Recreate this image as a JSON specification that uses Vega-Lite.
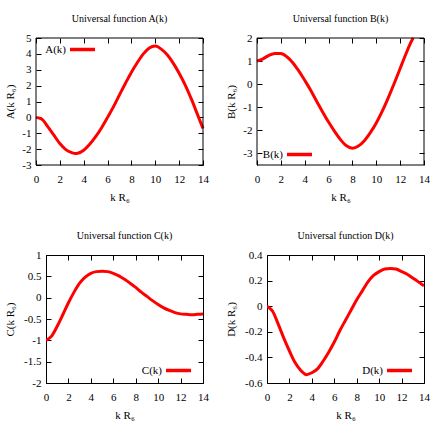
{
  "$schema": "https://vega.github.io/schema/vega-lite/v6.json",
  "padding": {"left": 4, "top": 14, "right": 0, "bottom": 0},
  "background": "white",
  "config": {
    "font": "Liberation Serif",
    "view": {"stroke": "black", "strokeWidth": 1},
    "axis": {
      "labelFont": "Liberation Serif", "labelFontSize": 11, "labelColor": "black",
      "titleFont": "Liberation Serif", "titleFontSize": 11, "titleFontWeight": "normal", "titleColor": "black",
      "domain": false, "grid": false, "ticks": true, "tickColor": "black", "tickSize": 5, "tickWidth": 1, "offset": -5,
      "labelPadding": 5, "minExtent": 0, "labelFlush": false, "labelOverlap": false, "format": "~g"
    },
    "axisY": {"titlePadding": 6},
    "axisX": {"titlePadding": 7, "labelPadding": 8},
    "title": {"font": "Liberation Serif", "fontSize": 10, "fontWeight": "normal", "color": "black", "offset": 8},
    "legend": {
      "labelFont": "Liberation Serif", "labelFontSize": 11, "labelColor": "black",
      "symbolType": "stroke", "symbolSize": 625, "symbolStrokeWidth": 3.5,
      "labelAlign": "right", "labelOffset": -31, "symbolOffset": 28, "title": null, "padding": 0
    },
    "locale": {"number": {"decimal": ".", "thousands": ",", "grouping": [3], "currency": ["$", ""], "minus": "-"}}
  },
  "datasets": {
    "uf": [
      {"k": 0, "A": 0, "B": 1.0, "C": -1.0, "D": 0},
      {"k": 0.5, "A": -0.12, "B": 1.1, "C": -0.9, "D": -0.04},
      {"k": 1, "A": -0.6, "B": 1.25, "C": -0.67, "D": -0.14},
      {"k": 1.5, "A": -1.12, "B": 1.33, "C": -0.4, "D": -0.25},
      {"k": 2, "A": -1.65, "B": 1.33, "C": -0.12, "D": -0.35},
      {"k": 2.5, "A": -2.03, "B": 1.19, "C": 0.13, "D": -0.44},
      {"k": 3, "A": -2.22, "B": 0.93, "C": 0.34, "D": -0.5},
      {"k": 3.3, "A": -2.28, "B": 0.72, "C": 0.43, "D": -0.525},
      {"k": 3.5, "A": -2.26, "B": 0.58, "C": 0.48, "D": -0.535},
      {"k": 4, "A": -2.07, "B": 0.17, "C": 0.57, "D": -0.52},
      {"k": 4.5, "A": -1.7, "B": -0.26, "C": 0.61, "D": -0.49},
      {"k": 5, "A": -1.22, "B": -0.74, "C": 0.62, "D": -0.43},
      {"k": 5.5, "A": -0.65, "B": -1.2, "C": 0.61, "D": -0.36},
      {"k": 6, "A": 0, "B": -1.64, "C": 0.57, "D": -0.28},
      {"k": 6.5, "A": 0.68, "B": -2.04, "C": 0.51, "D": -0.19},
      {"k": 7, "A": 1.42, "B": -2.4, "C": 0.43, "D": -0.11},
      {"k": 7.5, "A": 2.15, "B": -2.67, "C": 0.34, "D": -0.03},
      {"k": 8, "A": 2.85, "B": -2.77, "C": 0.24, "D": 0.05},
      {"k": 8.5, "A": 3.46, "B": -2.68, "C": 0.13, "D": 0.12},
      {"k": 9, "A": 4.0, "B": -2.45, "C": 0.03, "D": 0.19},
      {"k": 9.5, "A": 4.37, "B": -2.1, "C": -0.07, "D": 0.24},
      {"k": 10, "A": 4.49, "B": -1.68, "C": -0.16, "D": 0.27},
      {"k": 10.5, "A": 4.3, "B": -1.17, "C": -0.24, "D": 0.29},
      {"k": 11, "A": 3.94, "B": -0.59, "C": -0.3, "D": 0.295},
      {"k": 11.5, "A": 3.42, "B": 0.03, "C": -0.35, "D": 0.29},
      {"k": 12, "A": 2.78, "B": 0.68, "C": -0.38, "D": 0.27},
      {"k": 12.5, "A": 2.05, "B": 1.33, "C": -0.39, "D": 0.25},
      {"k": 13, "A": 1.2, "B": 1.91, "C": -0.4, "D": 0.22},
      {"k": 13.1, "A": 1.02, "B": 2.0, "C": -0.4, "D": 0.214},
      {"k": 13.5, "A": 0.25, "B": 2.5, "C": -0.39, "D": 0.19},
      {"k": 14, "A": -0.7, "B": 3.1, "C": -0.38, "D": 0.16}
    ],
    "frame": [{}]
  },
  "resolve": {"scale": {"color": "independent"}, "legend": {"color": "independent"}},
  "columns": 2,
  "spacing": {"row": 28, "column": 12},
  "concat": [
    {
      "title": {"text": "Universal function A(k)", "dx": -5},
      "width": 157, "height": 127,
      "view": {"stroke": null},
      "data": {"name": "uf"},
      "resolve": {"axis": {"x": "independent", "y": "independent"}},
      "layer": [
        {
          "mark": {"type": "line", "strokeWidth": 3, "interpolate": "monotone"},
          "encoding": {
            "x": {"field": "k", "type": "quantitative", "scale": {"domain": [0, 14], "range": [-10, 157], "nice": false, "zero": false}, "axis": {"values": [0, 2, 4, 6, 8, 10, 12, 14], "title": "k R₆"}},
            "y": {"field": "A", "type": "quantitative", "scale": {"domain": [-3, 5], "nice": false, "zero": false}, "axis": {"values": [-3, -2, -1, 0, 1, 2, 3, 4, 5], "title": "A(k R₆)", "offset": 5}},
            "color": {"datum": "A(k)", "scale": {"range": ["#ff0000"]}, "legend": {"orient": "top-left", "offset": -3, "symbolOffset": 25}}
          }
        },
        {
          "mark": {"type": "line", "strokeOpacity": 0},
          "encoding": {
            "x": {"field": "k", "type": "quantitative", "axis": {"orient": "top", "labels": false, "title": null, "values": [0, 2, 4, 6, 8, 10, 12, 14]}},
            "y": {"field": "A", "type": "quantitative", "axis": {"orient": "right", "labels": false, "title": null, "values": [-3, -2, -1, 0, 1, 2, 3, 4, 5]}}
          }
        },
        {
          "data": {"name": "frame"},
          "mark": {"type": "rect", "fillOpacity": 0, "stroke": "black", "strokeWidth": 1},
          "encoding": {
            "x": {"datum": 0, "type": "quantitative", "axis": null},
            "x2": {"datum": 14},
            "y": {"datum": -3, "type": "quantitative", "axis": null},
            "y2": {"datum": 5}
          }
        }
      ]
    },
    {
      "title": {"text": "Universal function B(k)", "dx": -5},
      "width": 157, "height": 127,
      "view": {"stroke": null},
      "data": {"name": "uf"},
      "transform": [{"filter": "datum.B <= 2"}],
      "resolve": {"axis": {"x": "independent", "y": "independent"}},
      "layer": [
        {
          "mark": {"type": "line", "strokeWidth": 3, "interpolate": "monotone"},
          "encoding": {
            "x": {"field": "k", "type": "quantitative", "scale": {"domain": [0, 14], "range": [-10, 157], "nice": false, "zero": false}, "axis": {"values": [0, 2, 4, 6, 8, 10, 12, 14], "title": "k R₆"}},
            "y": {"field": "B", "type": "quantitative", "scale": {"domain": [-3.5, 2], "nice": false, "zero": false}, "axis": {"values": [-3, -2, -1, 0, 1, 2], "title": "B(k R₆)", "offset": 5}},
            "color": {"datum": "B(k)", "scale": {"range": ["#ff0000"]}, "legend": {"orient": "bottom-left", "offset": 3, "symbolOffset": 15}}
          }
        },
        {
          "mark": {"type": "line", "strokeOpacity": 0},
          "encoding": {
            "x": {"field": "k", "type": "quantitative", "axis": {"orient": "top", "labels": false, "title": null, "values": [0, 2, 4, 6, 8, 10, 12, 14]}},
            "y": {"field": "B", "type": "quantitative", "axis": {"orient": "right", "labels": false, "title": null, "values": [-3, -2, -1, 0, 1, 2]}}
          }
        },
        {
          "data": {"name": "frame"},
          "mark": {"type": "rect", "fillOpacity": 0, "stroke": "black", "strokeWidth": 1},
          "encoding": {
            "x": {"datum": 0, "type": "quantitative", "axis": null},
            "x2": {"datum": 14},
            "y": {"datum": -3.5, "type": "quantitative", "axis": null},
            "y2": {"datum": 2}
          }
        }
      ]
    },
    {
      "title": "Universal function C(k)",
      "width": 157, "height": 128,
      "data": {"name": "uf"},
      "resolve": {"axis": {"x": "independent", "y": "independent"}},
      "layer": [
        {
          "mark": {"type": "line", "strokeWidth": 3, "interpolate": "monotone", "clip": true},
          "encoding": {
            "x": {"field": "k", "type": "quantitative", "scale": {"domain": [0, 14], "nice": false, "zero": false}, "axis": {"values": [0, 2, 4, 6, 8, 10, 12, 14], "title": "k R₆"}},
            "y": {"field": "C", "type": "quantitative", "scale": {"domain": [-2, 1], "nice": false, "zero": false}, "axis": {"values": [-2, -1.5, -1, -0.5, 0, 0.5, 1], "title": "C(k R₆)", "titlePadding": 8}},
            "color": {"datum": "C(k)", "scale": {"range": ["#ff0000"]}, "legend": {"orient": "bottom-right", "offset": 5}}
          }
        },
        {
          "mark": {"type": "line", "strokeOpacity": 0, "clip": true},
          "encoding": {
            "x": {"field": "k", "type": "quantitative", "axis": {"orient": "top", "labels": false, "title": null, "values": [0, 2, 4, 6, 8, 10, 12, 14]}},
            "y": {"field": "C", "type": "quantitative", "axis": {"orient": "right", "labels": false, "title": null, "values": [-2, -1.5, -1, -0.5, 0, 0.5, 1]}}
          }
        }
      ]
    },
    {
      "title": "Universal function D(k)",
      "width": 157, "height": 128,
      "data": {"name": "uf"},
      "resolve": {"axis": {"x": "independent", "y": "independent"}},
      "layer": [
        {
          "mark": {"type": "line", "strokeWidth": 3, "interpolate": "monotone", "clip": true},
          "encoding": {
            "x": {"field": "k", "type": "quantitative", "scale": {"domain": [0, 14], "nice": false, "zero": false}, "axis": {"values": [0, 2, 4, 6, 8, 10, 12, 14], "title": "k R₆"}},
            "y": {"field": "D", "type": "quantitative", "scale": {"domain": [-0.6, 0.4], "nice": false, "zero": false}, "axis": {"values": [-0.6, -0.4, -0.2, 0, 0.2, 0.4], "title": "D(k R₆)", "titlePadding": 8}},
            "color": {"datum": "D(k)", "scale": {"range": ["#ff0000"]}, "legend": {"orient": "bottom-right", "offset": 5}}
          }
        },
        {
          "mark": {"type": "line", "strokeOpacity": 0, "clip": true},
          "encoding": {
            "x": {"field": "k", "type": "quantitative", "axis": {"orient": "top", "labels": false, "title": null, "values": [0, 2, 4, 6, 8, 10, 12, 14]}},
            "y": {"field": "D", "type": "quantitative", "axis": {"orient": "right", "labels": false, "title": null, "values": [-0.6, -0.4, -0.2, 0, 0.2, 0.4]}}
          }
        }
      ]
    }
  ]
}
